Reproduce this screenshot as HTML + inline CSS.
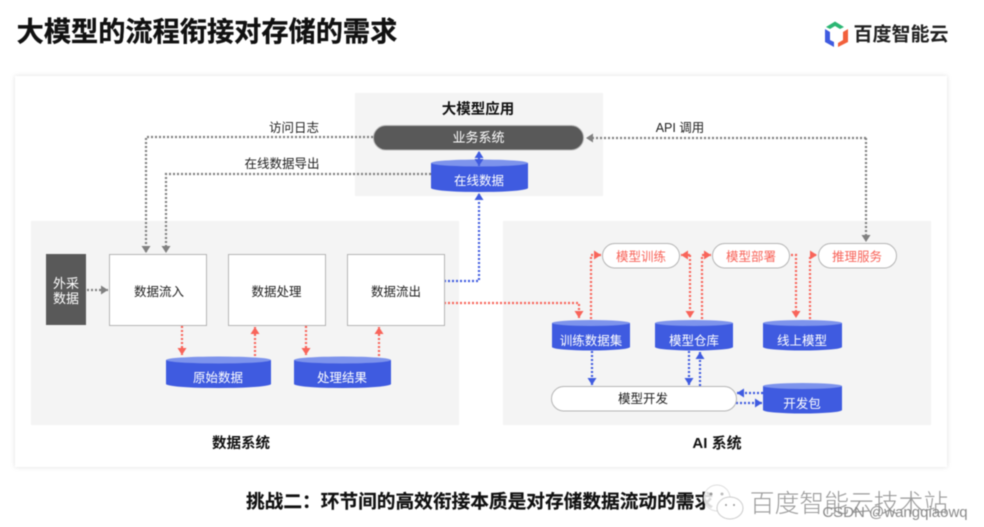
<!DOCTYPE html>
<html lang="zh"><head><meta charset="utf-8"><style>
html,body{margin:0;padding:0;background:#fff;width:984px;height:527px;overflow:hidden}
svg{display:block;filter:blur(.4px)}
text{font-family:"Liberation Sans","Noto Sans CJK SC",sans-serif;text-anchor:middle}
.b{font-weight:700;fill:#111}
.g,.r,.u{fill:none;stroke-width:2.2;stroke-dasharray:2 2}
.g{stroke:#808080}.r{stroke:#f8645a}.u{stroke:#3f5be0}
</style></head><body>
<svg width="984" height="527" viewBox="0 0 984 527" xmlns="http://www.w3.org/2000/svg">
<defs>
<marker id="ag" markerUnits="userSpaceOnUse" markerWidth="8" markerHeight="10" refX="7" refY="5" orient="auto"><path d="M0 .5L7 5L0 9.500Z" fill="#808080"/></marker>
<marker id="ar" markerUnits="userSpaceOnUse" markerWidth="8" markerHeight="10" refX="7" refY="5" orient="auto"><path d="M0 .5L7 5L0 9.500Z" fill="#f8645a"/></marker>
<marker id="au" markerUnits="userSpaceOnUse" markerWidth="8" markerHeight="10" refX="7" refY="5" orient="auto"><path d="M0 .5L7 5L0 9.500Z" fill="#3f5be0"/></marker>
<filter id="sh" x="-3%" y="-3%" width="106%" height="106%"><feDropShadow dx="0" dy="0" stdDeviation="2.5" flood-color="#000" flood-opacity=".13"/></filter>
</defs>
<text x="207" y="41" font-size="27.200" class="b" stroke="#111" stroke-width=".35">大模型的流程衔接对存储的需求</text>
<path d="M826 27L835 21.500L844 27L840 29L835 26L830 29Z" fill="#2bb673"/>
<path d="M825 29L830 32V40L834 42V47L825 42Z" fill="#3f5be0"/>
<path d="M848 29L843 32V40L838 43V47L848 42Z" fill="#f2603c"/>
<text x="901" y="40.500" font-size="19" font-weight="700" fill="#222">百度智能云</text>

<rect x="15" y="76" width="932" height="391" fill="#fff" filter="url(#sh)"/>
<rect x="355" y="93" width="248" height="103" fill="#f4f4f4"/>
<rect x="31" y="221" width="428" height="204" fill="#f4f4f4"/>
<rect x="503" y="221" width="428" height="204" fill="#f4f4f4"/>

<!-- grey connectors -->
<path class="g" d="M373 137H146V253" marker-end="url(#ag)"/>
<path class="g" d="M431 174H166V253" marker-end="url(#ag)"/>
<path class="g" d="M866 138H586" marker-end="url(#ag)"/>
<path class="g" d="M866 138V242" marker-end="url(#ag)"/>
<path class="g" d="M87 290H108" marker-end="url(#ag)"/>
<!-- blue -->
<path class="u" d="M444 281H479V193" marker-end="url(#au)"/>
<path class="u" d="M592 351V385" marker-end="url(#au)"/>
<path class="u" d="M689 351V385" marker-end="url(#au)"/>
<path class="u" d="M700 386V352" marker-end="url(#au)"/>
<path class="u" d="M763 393H737" marker-end="url(#au)"/>
<path class="u" d="M736 403H762" marker-end="url(#au)"/>
<!-- red -->
<path class="r" d="M182 326V355" marker-end="url(#ar)"/>
<path class="r" d="M255 356V327" marker-end="url(#ar)"/>
<path class="r" d="M306 326V355" marker-end="url(#ar)"/>
<path class="r" d="M379 356V327" marker-end="url(#ar)"/>
<path class="r" d="M444 303H579V318" marker-end="url(#ar)"/>
<path class="r" d="M591 319V255H601" marker-end="url(#ar)"/>
<path class="r" d="M690 255H681" marker-end="url(#ar)"/>
<path class="r" d="M690 255V318" marker-end="url(#ar)"/>
<path class="r" d="M702 319V255H711" marker-end="url(#ar)"/>
<path class="r" d="M791 255H796V318" marker-end="url(#ar)"/>
<path class="r" d="M810 319V255H817" marker-end="url(#ar)"/>

<!-- boxes -->
<rect x="46" y="254" width="40" height="71" fill="#595959"/>
<text x="66" y="288" font-size="13" fill="#fff">外采</text>
<text x="66" y="303" font-size="13" fill="#fff">数据</text>
<g fill="#fff" stroke="#b5b5b5" stroke-width="1">
<rect x="109.500" y="254.500" width="97" height="71"/>
<rect x="228.500" y="254.500" width="97" height="71"/>
<rect x="347.500" y="254.500" width="97" height="71"/>
<rect x="602.500" y="243.500" width="77" height="24.500" rx="12.250"/>
<rect x="712.500" y="243.500" width="77" height="24.500" rx="12.250"/>
<rect x="818.500" y="243.500" width="78" height="24.500" rx="12.250"/>
<rect x="551.500" y="386.500" width="185" height="24.500" rx="12.250"/>
</g>
<rect x="373.500" y="125.500" width="210" height="24.500" rx="12.250" fill="#595959" stroke="#b5b5b5"/>
<text x="478.500" y="142" font-size="13" fill="#fff">业务系统</text>
<text x="294" y="132" font-size="12.500" fill="#222">访问日志</text>
<text x="282" y="168" font-size="12.500" fill="#222">在线数据导出</text>
<text x="680" y="132" font-size="12.500" fill="#222">API 调用</text>
<text x="478" y="114" font-size="14.500" class="b">大模型应用</text>
<text x="159" y="296" font-size="12.500" fill="#222">数据流入</text>
<text x="276.500" y="296" font-size="12.500" fill="#222">数据处理</text>
<text x="396" y="296" font-size="12.500" fill="#222">数据流出</text>
<text x="641" y="261" font-size="12.500" fill="#f8645a">模型训练</text>
<text x="751" y="261" font-size="12.500" fill="#f8645a">模型部署</text>
<text x="857" y="261" font-size="12.500" fill="#f8645a">推理服务</text>
<text x="643" y="403" font-size="12.500" fill="#222">模型开发</text>

<!-- cylinders -->
<g>
<path d="M431 163V188A48.500 4 0 0 0 528 188V163Z" fill="#3f5be0"/><ellipse cx="479.500" cy="163" rx="48.500" ry="3.500" fill="#7d93ec"/>
<path d="M166 360V384A52.500 4 0 0 0 271 384V360Z" fill="#3f5be0"/><ellipse cx="218.500" cy="360" rx="52.500" ry="3.500" fill="#7d93ec"/>
<path d="M294 360V384A48.500 4 0 0 0 391 384V360Z" fill="#3f5be0"/><ellipse cx="342.500" cy="360" rx="48.500" ry="3.500" fill="#7d93ec"/>
<path d="M552 323V347A39 3.500 0 0 0 630 347V323Z" fill="#3f5be0"/><ellipse cx="591" cy="323" rx="39" ry="3" fill="#7d93ec"/>
<path d="M655 323V347A39 3.500 0 0 0 733 347V323Z" fill="#3f5be0"/><ellipse cx="694" cy="323" rx="39" ry="3" fill="#7d93ec"/>
<path d="M763 323V347A39.500 3.500 0 0 0 842 347V323Z" fill="#3f5be0"/><ellipse cx="802.500" cy="323" rx="39.500" ry="3" fill="#7d93ec"/>
<path d="M763 386V410A39.500 3.500 0 0 0 842 410V386Z" fill="#3f5be0"/><ellipse cx="802.500" cy="386" rx="39.500" ry="3" fill="#7d93ec"/>
</g>
<!-- double arrow between 业务系统 and 在线数据, above the cylinder -->
<path class="u" d="M479 158V151" marker-end="url(#au)"/>
<path class="u" d="M479 153V166" marker-end="url(#au)"/>
<g font-size="12.500" fill="#fff">
<text x="479" y="185">在线数据</text>
<text x="218" y="382">原始数据</text>
<text x="342" y="382">处理结果</text>
<text x="591" y="345">训练数据集</text>
<text x="694" y="345">模型仓库</text>
<text x="802" y="345">线上模型</text>
<text x="802" y="408">开发包</text>
</g>
<text x="241" y="448" font-size="14.500" class="b">数据系统</text>
<text x="717" y="448" font-size="15" class="b">AI 系统</text>
<text x="246" y="508" font-size="18.700" class="b" style="text-anchor:start" stroke="#111" stroke-width=".2">挑战二：环节间的高效衔接本质是对存储数据流动的需求</text>

<!-- watermark -->
<ellipse cx="717" cy="498" rx="13" ry="13" fill="#fff" fill-opacity=".85" stroke="#ddd"/>
<ellipse cx="730" cy="508" rx="13" ry="11" fill="#fff" stroke="#ccc"/>
<circle cx="711" cy="494" r="1.500" fill="#999"/><circle cx="722" cy="494" r="1.500" fill="#bbb"/>
<circle cx="726" cy="505" r="1" fill="#999"/><circle cx="734" cy="505" r="1" fill="#999"/>
<text x="849" y="512" font-size="24.800" fill="#9a9a9a" font-weight="300">百度智能云技术站</text>
<text x="895" y="517" font-size="15" fill="#8a8a8a">CSDN @wangqiaowq</text>
</svg>
</body></html>
